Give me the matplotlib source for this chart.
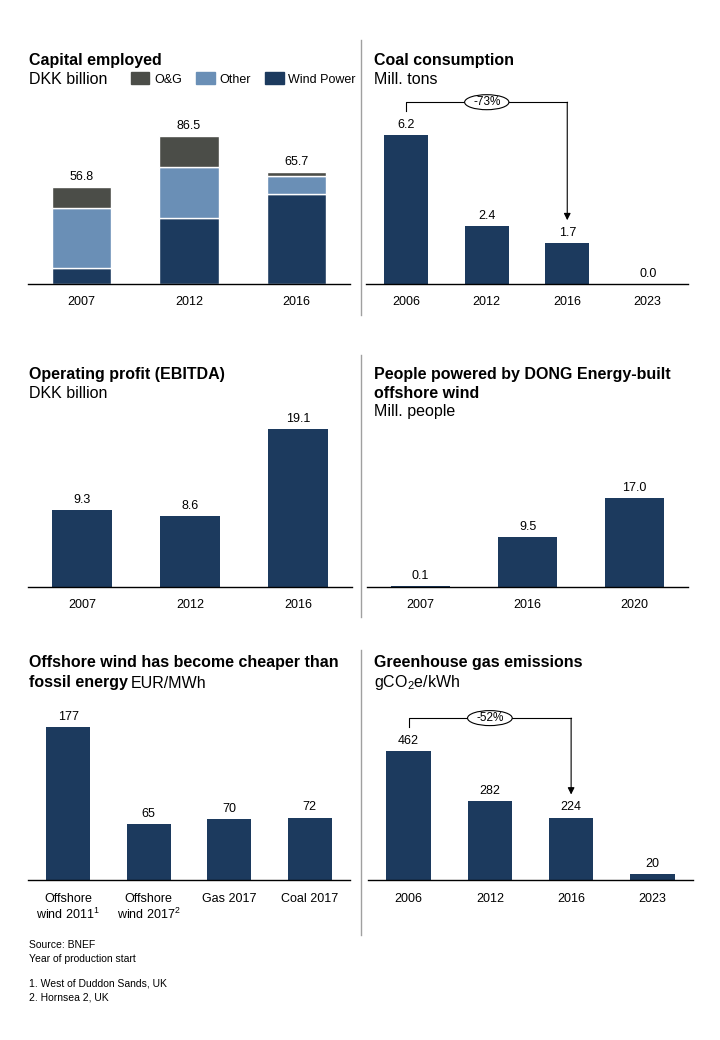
import matplotlib.pyplot as plt
from matplotlib.patches import Patch, Ellipse
from matplotlib.lines import Line2D

plt.rcParams['font.family'] = ['Liberation Sans', 'DejaVu Sans']
plt.rcParams['mathtext.fontset'] = 'custom'
plt.rcParams['mathtext.rm'] = 'Liberation Sans'

# data
cap_years = ['2007', '2012', '2016']
cap_wind = [9.4, 38.5, 52.7]
cap_other = [35.1, 30.2, 10.4]
cap_og = [12.3, 17.8, 2.6]
cap_total = [56.8, 86.5, 65.7]

coal_years = ['2006', '2012', '2016', '2023']
coal = [6.2, 2.4, 1.7, 0.0]

ebitda_years = ['2007', '2012', '2016']
ebitda = [9.3, 8.6, 19.1]

people_years = ['2007', '2016', '2020']
people = [0.1, 9.5, 17.0]

lcoe_labels = ['Offshore\nwind 2011$^\\mathregular{1}$', 'Offshore\nwind 2017$^\\mathregular{2}$',
               'Gas 2017', 'Coal 2017']
lcoe = [177, 65, 70, 72]

ghg_years = ['2006', '2012', '2016', '2023']
ghg = [462, 282, 224, 20]

NAVY = '#1c3a5e'
LIGHT = '#6a8fb6'
GREY = '#4b4d48'

W, H = 720, 1040
fig = plt.figure(figsize=(7.2, 10.4), dpi=100)


def make_axes(x0, x1, base, ppu, height=190):
    ax = fig.add_axes([x0 / W, 1 - base / H, (x1 - x0) / W, height / H])
    ax.set_facecolor('none')
    ax.set_ylim(0, height / ppu)
    for s in ['top', 'left', 'right']:
        ax.spines[s].set_visible(False)
    ax.spines['bottom'].set_linewidth(1.0)
    ax.set_yticks([])
    ax.tick_params(axis='x', length=0, pad=9, labelsize=9)
    return ax


def simple_bars(ax, labels, values, fmt):
    x = range(len(values))
    ax.bar(x, values, width=0.55, color=NAVY)
    ax.set_xlim(-0.5, len(values) - 0.5)
    ax.set_xticks(list(x))
    ax.set_xticklabels(labels)
    for i, v in zip(x, values):
        ax.annotate(fmt.format(v), (i, v), xytext=(0, 3), textcoords='offset points',
                    ha='center', va='bottom', fontsize=9)


def bracket(ax, values, ppu, label):
    y_start = values[0] + 24 / ppu
    y_top = values[0] + 33 / ppu
    y_tip = values[2] + 23 / ppu
    ax.plot([0, 0, 2], [y_start, y_top, y_top], color='black', lw=0.8, clip_on=False)
    ax.annotate('', xy=(2, y_tip), xytext=(2, y_top),
                arrowprops=dict(arrowstyle='-|>', color='black', lw=0.8,
                                mutation_scale=10, shrinkA=0, shrinkB=0),
                annotation_clip=False)
    ax.add_patch(Ellipse((1, y_top), 0.55, 15 / ppu, facecolor='white',
                         edgecolor='black', lw=0.8, clip_on=False, zorder=5))
    ax.text(1, y_top, label, ha='center', va='center', fontsize=8.5, zorder=6)


def title(x, y, s, bold=True):
    return fig.text(x / W, 1 - y / H, s, fontsize=11.5, va='center',
                    fontweight='bold' if bold else 'normal')


# capital employed
ppu = 1.708
ax = make_axes(28, 350, 284, ppu)
x = range(len(cap_years))
ax.bar(x, cap_wind, width=0.55, color=NAVY, edgecolor='white', lw=1)
ax.bar(x, cap_other, width=0.55, bottom=cap_wind, color=LIGHT, edgecolor='white', lw=1)
bottoms = [a + b for a, b in zip(cap_wind, cap_other)]
ax.bar(x, cap_og, width=0.55, bottom=bottoms, color=GREY, edgecolor='white', lw=1)
ax.set_xlim(-0.5, 2.5)
ax.set_xticks(list(x))
ax.set_xticklabels(cap_years)
for i, v in zip(x, cap_total):
    ax.annotate('{:.1f}'.format(v), (i, v), xytext=(0, 3), textcoords='offset points',
                ha='center', va='bottom', fontsize=9)
handles = [Patch(color=GREY, label='O&G'), Patch(color=LIGHT, label='Other'),
           Patch(color=NAVY, label='Wind Power')]
ax.legend(handles=handles, loc='center right', bbox_to_anchor=(356 / W, 1 - 79 / H),
          bbox_transform=fig.transFigure, ncol=3, frameon=False, fontsize=9,
          handlelength=1.5, handleheight=1.1, handletextpad=0.4, columnspacing=1.1,
          borderpad=0, borderaxespad=0)
title(29, 60, 'Capital employed')
title(29, 79, 'DKK billion', bold=False)

# coal consumption
ppu = 24.0
ax = make_axes(366, 688, 284, ppu)
simple_bars(ax, coal_years, coal, '{:.1f}')
bracket(ax, coal, ppu, '-73%')
title(374, 60, 'Coal consumption')
title(374, 79, 'Mill. tons', bold=False)

# ebitda
ppu = 8.27
ax = make_axes(28, 352, 587, ppu)
simple_bars(ax, ebitda_years, ebitda, '{:.1f}')
title(29, 375, 'Operating profit (EBITDA)')
title(29, 393, 'DKK billion', bold=False)

# people powered
ppu = 5.24
ax = make_axes(367, 688, 587, ppu)
simple_bars(ax, people_years, people, '{:.1f}')
title(374, 374, 'People powered by DONG Energy-built')
title(374, 393, 'offshore wind')
title(374, 412, 'Mill. people', bold=False)

# offshore wind cost
ppu = 0.866
ax = make_axes(28, 350, 880, ppu)
simple_bars(ax, lcoe_labels, lcoe, '{:d}')
title(29, 663, 'Offshore wind has become cheaper than')
t = title(29, 683, 'fossil energy')
bb = t.get_window_extent(renderer=fig.canvas.get_renderer())
fig.text((bb.x1 + 3) / W, 1 - 683 / H, 'EUR/MWh', fontsize=11.5, va='center')

# greenhouse gas
ppu = 0.279
ax = make_axes(368, 693, 880, ppu)
simple_bars(ax, ghg_years, ghg, '{:d}')
bracket(ax, ghg, ppu, '-52%')
title(374, 663, 'Greenhouse gas emissions')
title(374, 683, 'gCO$_\\mathregular{2}$e/kWh', bold=False)

# footnotes
notes = [(945, 'Source: BNEF'), (959, 'Year of production start'),
         (983, '1. West of Duddon Sands, UK'), (997, '2. Hornsea 2, UK')]
for y, s in notes:
    fig.text(29 / W, 1 - y / H, s, fontsize=7.5, va='center')

# vertical dividers
for y0, y1 in [(40, 315), (355, 617), (650, 935)]:
    fig.add_artist(Line2D([361 / W, 361 / W], [1 - y0 / H, 1 - y1 / H],
                          color='#a0a0a0', lw=1))

fig.savefig('out.png', dpi=100)
